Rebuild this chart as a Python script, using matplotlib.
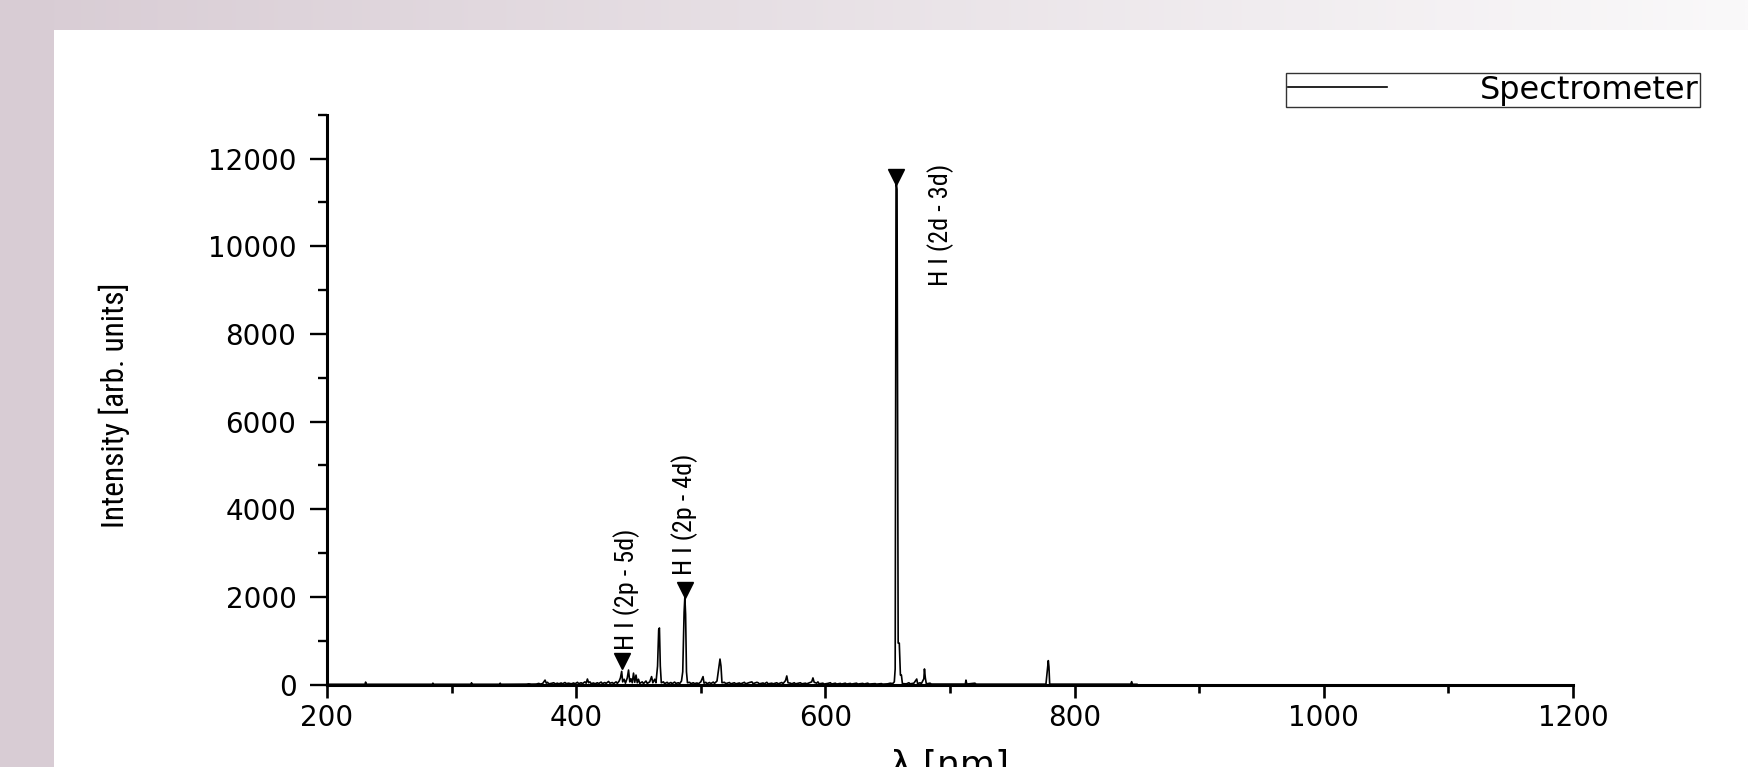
import numpy as np
import matplotlib
matplotlib.use("Agg")
import matplotlib.pyplot as plt
from matplotlib import font_manager
from matplotlib.patches import Rectangle
from matplotlib.ticker import MultipleLocator

# ---------------- data ----------------
spec_nm = [200, 230.5, 231, 231.5, 284.5, 285, 285.5, 315.5, 316, 316.5, 338.5, 339, 339.5,
           360, 362, 364, 368, 370, 371, 373, 374, 375, 376, 377, 378, 380, 382, 383, 385, 386,
           388, 389, 391, 392, 394, 396, 398, 399, 401, 402, 404, 405, 407, 408, 409, 410, 411, 412,
           414, 415, 417, 418, 420, 421, 423, 424, 426, 427, 429, 430,
           432, 433, 434.5, 435.5, 436.5, 437.3, 438.5, 439.5, 441, 442, 443, 444, 445, 446, 447,
           448, 449, 450, 451, 453, 454, 456, 457, 459, 460.5, 461.5, 463, 464, 465.3, 466.2, 466.8,
           467.5, 468.3, 470, 471, 473, 474, 476, 477, 479, 480, 482, 483, 484.5, 485.5, 486.6,
           487.2, 487.8, 488.5, 489.3, 491, 492, 494, 495, 497, 498, 500, 501.8, 502.6, 504, 505,
           507, 508, 510, 511, 513, 514.6, 515.4, 516.2, 517, 519, 520,
           523, 524, 527, 528, 531, 532, 535, 536, 539, 541, 542, 545, 546, 547, 550, 551, 553, 554,
           557, 558, 561, 562, 565, 566, 568, 569, 570, 572, 573, 575, 576, 579, 580, 581, 584, 585,
           588, 589, 590, 591, 593, 594, 595, 598, 599, 602, 604, 605, 608, 609, 612, 613, 616, 617,
           620, 621, 625, 626, 630, 631, 634, 635, 640, 641, 645, 646,
           650, 652, 654, 655.3, 656.0, 656.7, 657.5, 658.4, 659.3, 660.2, 661, 661.8,
           665, 667, 668, 671, 673.3, 674, 676, 677, 679, 679.5, 680.2, 681, 684, 685,
           700, 712.3, 712.8, 713.5, 720, 721, 777, 778.4, 778.9, 779.4, 780,
           845, 845.8, 846.5, 850]
spec_counts = [5, 5, 55, 5, 5, 30, 5, 5, 40, 5, 5, 30, 5,
               8, 15, 8, 10, 25, 10, 20, 60, 100, 30, 50, 15, 25, 40, 15, 30, 15,
               35, 15, 45, 20, 30, 15, 35, 15, 50, 20, 40, 20, 60, 30, 125, 40, 60, 20,
               35, 15, 40, 20, 55, 20, 45, 25, 70, 30, 45, 20,
               60, 25, 80, 150, 300, 60, 120, 30, 150, 330, 60, 130, 40, 260, 50,
               215, 40, 120, 25, 60, 20, 80, 25, 60, 180, 40, 120, 40, 420, 1250, 1290,
               420, 40, 60, 20, 50, 20, 45, 20, 55, 25, 40, 20, 80, 290, 1650,
               2000, 1600, 290, 40, 50, 20, 40, 20, 35, 15, 60, 180, 30, 50, 20,
               45, 20, 55, 25, 80, 420, 580, 420, 40, 50, 20,
               45, 15, 40, 15, 35, 15, 50, 15, 45, 60, 20, 50, 40, 15, 35, 15, 50, 15,
               30, 15, 40, 15, 45, 20, 90, 195, 40, 30, 15, 40, 15, 35, 40, 15, 30, 15,
               50, 60, 150, 50, 30, 60, 15, 30, 10, 25, 40, 10, 30, 10, 25, 10, 30, 10,
               25, 10, 30, 10, 25, 10, 30, 10, 20, 8, 20, 8,
               15, 30, 20, 60, 355, 11500, 11300, 945, 945, 215, 215, 20,
               15, 40, 15, 30, 125, 20, 40, 20, 130, 355, 150, 15, 30, 10,
               10, 10, 100, 10, 30, 8, 8, 420, 545, 405, 8,
               8, 65, 5, 5]

marker_nm = [436.5, 487.2, 657.0]
marker_counts = [545, 2150, 11580]
marker_labels = ["H I (2p - 5d)", "H I (2p - 4d)", "H I (2d - 3d)"]
label_offsets_pt = [(3.6, 7.8), (0.0, 11.2), (31.7, -78.7)]

series_name = "Spectrometer"
x_label = "\u03bb [nm]"
y_label = "Intensity [arb. units]"

# ---------------- fonts ----------------
names = {f.name for f in font_manager.fontManager.ttflist}
narrow = "Liberation Sans"
for cand in ["Liberation Sans Narrow", "Roboto Condensed", "Open Sans Condensed",
             "DejaVu Sans Condensed", "Roboto", "Liberation Sans"]:
    if cand in names:
        narrow = cand
        break
wide = "DejaVu Sans"
plt.rcParams["font.family"] = [wide]

W, H = 1748, 767
fig = plt.figure(figsize=(W / 100, H / 100), dpi=100, facecolor="white")

# background bands
bg = fig.add_axes([0, 0, 1, 1], zorder=-10)
bg.set_xlim(0, W)
bg.set_ylim(H, 0)
bg.set_axis_off()
c0 = np.array([216, 204, 212]) / 255.0
c1 = np.array([250, 249, 250]) / 255.0
t = np.linspace(0, 1, 256)[:, None]
grad = (c0 * (1 - t) + c1 * t)[None, :, :]
bg.imshow(grad, extent=(0, W, 30, 0), aspect="auto", interpolation="bilinear")
bg.add_patch(Rectangle((0, 0), 54, H, facecolor=c0, edgecolor="none"))

# main axes
left, right = 327 / W, 1573 / W
bottom, top = (H - 684.5) / H, (H - 114.8) / H
ax = fig.add_axes([left, bottom, right - left, top - bottom])
ax.set_facecolor("none")

ax.plot(spec_nm, spec_counts, color="black", lw=1.2, label=series_name, zorder=3)
ax.plot(marker_nm, marker_counts, linestyle="none", marker="v", color="black",
        markersize=11, zorder=4)
ann = []
for xn, yc, lab, (dx, dy) in zip(marker_nm, marker_counts, marker_labels, label_offsets_pt):
    a = ax.annotate(lab, xy=(xn, yc), xytext=(dx, dy), textcoords="offset points",
                    rotation=90, ha="center", va="bottom", fontsize=20, family=narrow,
                    color="black")
    ann.append(a)

ax.set_xlim(200, 1200)
ax.set_ylim(0, 13000)
ax.xaxis.set_major_locator(MultipleLocator(200))
ax.xaxis.set_minor_locator(MultipleLocator(100))
ax.yaxis.set_major_locator(MultipleLocator(2000))
ax.yaxis.set_minor_locator(MultipleLocator(1000))

for s in ("top", "right"):
    ax.spines[s].set_visible(False)
for s in ("left", "bottom"):
    ax.spines[s].set_linewidth(2.2)
    ax.spines[s].set_zorder(5)

ax.tick_params(axis="x", which="major", direction="out", length=9.4, width=1.9,
               pad=5, labelsize=20)
ax.tick_params(axis="x", which="minor", direction="out", length=5.5, width=1.9)
ax.tick_params(axis="y", which="major", direction="out", length=12, width=1.7,
               pad=10, labelsize=20)
ax.tick_params(axis="y", which="minor", direction="out", length=6.7, width=1.7)

ax.set_xlabel(x_label, fontsize=26, family=wide)
ax.xaxis.set_label_coords(0.5, -0.113)
ax.xaxis.label.set_va("top")
ax.set_ylabel(y_label, fontsize=25, family=narrow)
ax.yaxis.set_label_coords(-0.171, 0.49)
ax.yaxis.label.set_va("center")

leg = ax.legend(loc="upper right", bbox_to_anchor=(1700 / W, 1 - 73.0 / H),
                bbox_transform=fig.transFigure, frameon=True, fancybox=False,
                framealpha=1, borderaxespad=0, handlelength=3.1, handletextpad=2.9,
                borderpad=0.05, fontsize=23)
leg.get_frame().set_edgecolor("#333333")
leg.get_frame().set_linewidth(1.0)


# size the rotated texts so their length matches the reference
def fit_length(txt, target_px):
    fig.canvas.draw()
    r = fig.canvas.get_renderer()
    for _ in range(3):
        ext = txt.get_window_extent(renderer=r)
        cur = ext.height
        if cur > 0:
            txt.set_fontsize(txt.get_fontsize() * target_px / cur)


for a in ann:
    fit_length(a, 122)
fit_length(ax.yaxis.label, 245)

fig.savefig("out.png", dpi=100, facecolor="white")
